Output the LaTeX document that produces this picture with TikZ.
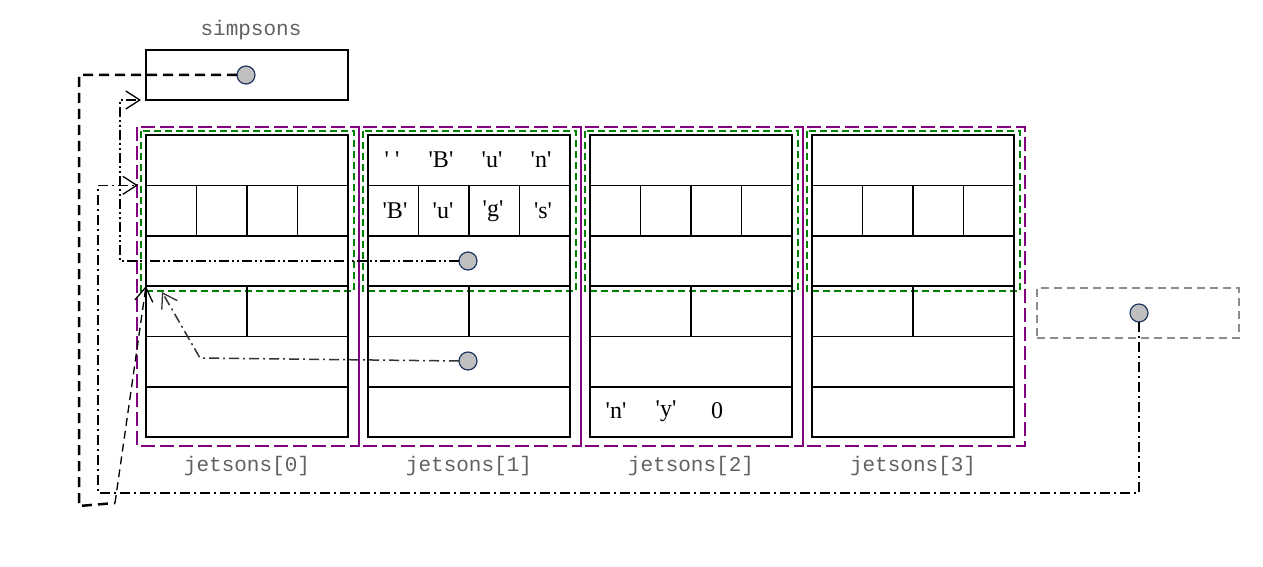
\documentclass[tikz,border=0pt]{standalone}
\usepackage{fontspec}
\newfontfamily\monof{Liberation Mono}
\newfontfamily\serf{Liberation Serif}
\usetikzlibrary{arrows.meta}
\definecolor{pur}{RGB}{128,0,128}
\definecolor{grn}{RGB}{0,128,0}
\definecolor{navyc}{RGB}{31,56,100}
\newcommand\qq[1]{\textquotesingle#1\textquotesingle}
\begin{document}
\begin{tikzpicture}[x=1pt,y=-1pt,
 cell/.style={draw,line width=1.6pt,anchor=north west,minimum width=202pt,minimum height=50.3pt,inner sep=0pt,outer sep=0pt},
 ptr/.style={circle,draw=navyc,fill=black!25,line width=1.2pt,minimum size=18pt,inner sep=0pt,outer sep=0pt},
 lbl/.style={font=\monof\fontsize{21}{24}\selectfont,text=black!62},
 ch/.style={font=\serf\fontsize{24}{28}\selectfont,inner sep=0pt},
 pbox/.style={draw=pur,line width=1.5pt,dash pattern=on 14pt off 5pt},
 gbox/.style={draw=grn,line width=1.5pt,dash pattern=on 7pt off 4pt},
 tip/.style={-{Straight Barb[length=14pt,width=18pt,line width=1.3pt]}},
 dd/.style={line width=1.5pt,dash pattern=on 10pt off 4pt on 2pt off 4pt},
 ddd/.style={line width=1.5pt,dash pattern=on 10pt off 3pt on 2pt off 3pt on 2pt off 3pt}
]
\useasboundingbox (0,0) rectangle (1263,567);
\foreach \i/\x in {0/146,1/368,2/590,3/812} {
  \draw[pbox] (\x-9,127) rectangle (\x+213,446);
}
\foreach \i/\x in {0/146,1/368,2/590,3/812} {
  \draw[gbox] (\x-5,131) rectangle (\x+208,291);
  \foreach \r/\y in {1/135,2/185.3,3/235.7,4/286,5/336.3,6/386.7}
    \node[cell] (j\i r\r) at (\x,\y) {};
  \draw[line width=1.6pt] (\x+50.5,185.3) -- (\x+50.5,235.7)
        (\x+101,185.3) -- (\x+101,235.7)
        (\x+151.5,185.3) -- (\x+151.5,235.7)
        (\x+101,286) -- (\x+101,336.3);
  \node[lbl] (lab\i) at (\x+101,466) {jetsons[\i]};
}
% simpsons
\node[lbl] (simplbl) at (251,30) {simpsons};
\node[cell,minimum height=50pt] (simp) at (146,50) {};
\node[ptr] (ps) at (246,75) {};
% extra box
\node[draw=black!45,line width=1.5pt,dash pattern=on 8pt off 5pt,anchor=north west,minimum width=202pt,minimum height=50pt,inner sep=0pt] (extra) at (1036,287) {};
\node[ptr] (pe) at (1139,313) {};
% chars
\node[ch] (c11) at (392,160) {\qq{~}};
\node[ch] (c12) at (441,160) {\qq{B}};
\node[ch] (c13) at (492,160) {\qq{u}};
\node[ch] (c14) at (541,160) {\qq{n}};
\node[ch] (c21) at (395,211) {\qq{B}};
\node[ch] (c22) at (443,211) {\qq{u}};
\node[ch] (c23) at (493,211) {\qq{g}};
\node[ch] (c24) at (543,211) {\qq{s}};
\node[ch] (c31) at (616,411) {\qq{n}};
\node[ch] (c32) at (666,411) {\qq{y}};
\node[ch] (c33) at (717,411) {0};
% pointers in jetsons[1]
\node[ptr] (p1) at (468,261) {};
\node[ptr] (p2) at (468,361) {};
% connectors
\coordinate (a1) at (79,75);
\coordinate (a2) at (79,506);
\coordinate (a3) at (115,503);
\draw[line width=2.5pt,dash pattern=on 10pt off 6pt] (ps.west) -- (a1) -- (a2) -- (a3);
\draw[tip,line width=1.3pt,dash pattern=on 8pt off 5pt] (a3) -- (j0r4.north west);
\coordinate (b1) at (120,261);
\coordinate (b2) at (120,100);
\draw[tip,ddd,shorten >=5pt] (p1.west) -- (b1) -- (b2) -- (simp.south west);
\coordinate (e1) at (200,358);
\coordinate (e2) at (162,292);
\draw[tip,dd,black!80] (p2.west) -- (e1) -- (e2);
\coordinate (d1) at (1139,493);
\coordinate (d2) at (98,493);
\coordinate (d3) at (98,185.3);
\draw[tip,dd,shorten >=8pt] (pe.south) -- (d1) -- (d2) -- (d3) -- (j0r2.north west);
\end{tikzpicture}
\end{document}
